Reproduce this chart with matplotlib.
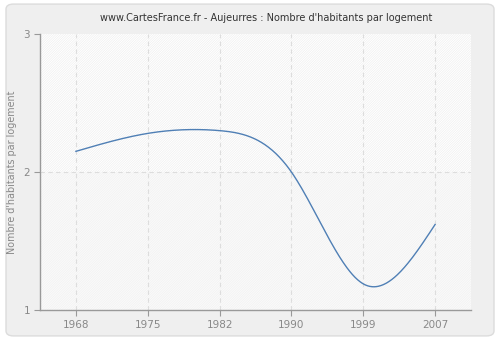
import numpy as np
import matplotlib
matplotlib.use("Agg")
import matplotlib.pyplot as plt
from matplotlib.patches import FancyBboxPatch, Rectangle

years = ["1968", "1975", "1982", "1990", "1999", "2007"]
values = [2.15, 2.28, 2.30, 2.00, 1.19, 1.62]
y_ticks = [1, 2, 3]

title = "www.CartesFrance.fr - Aujeurres : Nombre d'habitants par logement"
y_label = "Nombre d'habitants par logement"

plt.rcParams["hatch.linewidth"] = 0.4


def natural_spline(x, y, xs):
    """Natural cubic spline evaluated at xs."""
    x = np.asarray(x, float)
    y = np.asarray(y, float)
    n = len(x)
    h = np.diff(x)
    A = np.zeros((n, n))
    b = np.zeros(n)
    A[0, 0] = 1
    A[-1, -1] = 1
    for i in range(1, n - 1):
        A[i, i - 1] = h[i - 1]
        A[i, i] = 2 * (h[i - 1] + h[i])
        A[i, i + 1] = h[i]
        b[i] = 3 * ((y[i + 1] - y[i]) / h[i] - (y[i] - y[i - 1]) / h[i - 1])
    c = np.linalg.solve(A, b)
    out = np.empty_like(xs)
    for k, xv in enumerate(xs):
        i = min(max(np.searchsorted(x, xv) - 1, 0), n - 2)
        dx = xv - x[i]
        bi = (y[i + 1] - y[i]) / h[i] - h[i] * (2 * c[i] + c[i + 1]) / 3
        di = (c[i + 1] - c[i]) / (3 * h[i])
        out[k] = y[i] + bi * dx + c[i] * dx ** 2 + di * dx ** 3
    return out


fig = plt.figure(figsize=(5, 3.4), dpi=100)
fig.patch.set_facecolor("white")
frame = FancyBboxPatch((0.012, 0.012), 0.976, 0.976,
                       boxstyle="round,pad=0,rounding_size=0.015",
                       transform=fig.transFigure, facecolor="#efefef",
                       edgecolor="#dcdcdc", linewidth=1.0, zorder=-10)
fig.patches.append(frame)

ax = fig.add_axes([0.08, 0.088, 0.862, 0.812])
ax.set_zorder(1)
ax.set_facecolor("#fbfbfb")

pos = np.arange(len(years))
ax.set_xlim(-0.5, len(years) - 0.5)
ax.set_ylim(1, 3)

# faint diagonal hatching across the plotting area
ax.add_patch(Rectangle((-0.5, 2), len(years), 1, facecolor="#ffffff",
                       edgecolor="#ececec", hatch="/" * 14, linewidth=0, zorder=0))
ax.add_patch(Rectangle((-0.5, 1), len(years), 1, facecolor="#fafafa",
                       edgecolor="#f0f0f0", hatch="/" * 14, linewidth=0, zorder=0))

for p in pos:
    ax.axvline(p, color="#dddddd", linestyle=(0, (4, 3)), linewidth=0.8, zorder=1)
ax.axhline(2, color="#dddddd", linestyle=(0, (4, 3)), linewidth=0.8, zorder=1)

xs = np.linspace(pos[0], pos[-1], 400)
ax.plot(xs, natural_spline(pos, values, xs), color="#4f7fb5", linewidth=1.0, zorder=3)

ax.set_xticks(pos)
ax.set_xticklabels(years)
ax.set_yticks(y_ticks)
ax.set_yticklabels([str(t) for t in y_ticks])
ax.tick_params(colors="#999999", labelcolor="#888888", labelsize=7.5,
               length=4, width=0.8, pad=3)
for side in ("top", "right"):
    ax.spines[side].set_visible(False)
for side in ("left", "bottom"):
    ax.spines[side].set_color("#999999")
    ax.spines[side].set_linewidth(1.0)

ax.set_ylabel(y_label, color="#888888", fontsize=6.9, labelpad=5)
fig.text(0.532, 0.947, title, ha="center", va="center", fontsize=7.0, color="#333333")

fig.savefig("out.png", dpi=100, facecolor=fig.get_facecolor())
